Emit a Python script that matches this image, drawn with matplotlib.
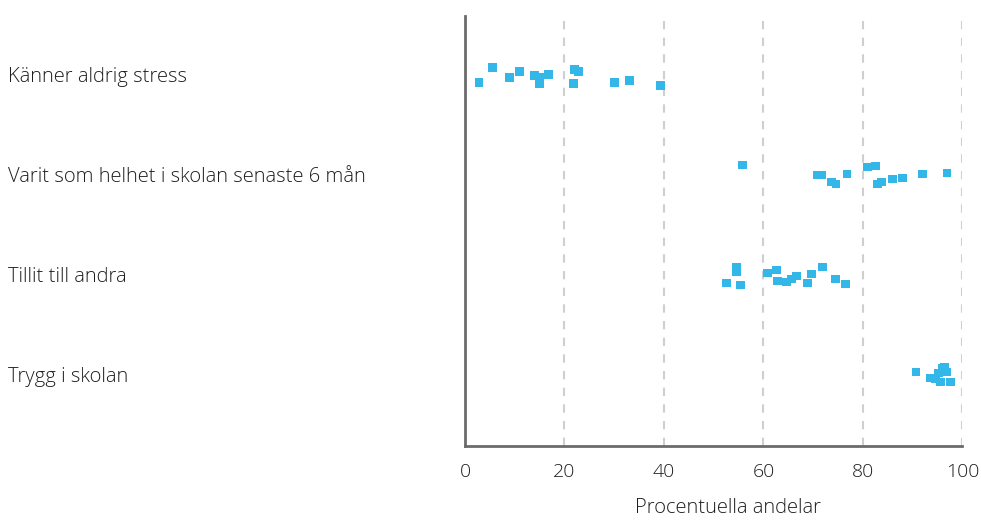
import matplotlib.pyplot as plt
import matplotlib.transforms as mtransforms

CATEGORIES = ['Trygg i skolan',
              'Tillit till andra',
              'Varit som helhet i skolan senaste 6 mån',
              'Känner aldrig stress']
CATEGORY_POS = [1, 2, 3, 4]

# Each point: share in percent and its jittered row position
STRESS_X = [2.8, 5.6, 8.9, 10.9, 14.0, 15.0, 15.0, 16.8, 22.0, 22.8, 21.8,
            30.0, 33.1, 39.3]
STRESS_Y = [3.95, 4.10, 4.00, 4.06, 4.02, 4.00, 3.94, 4.03, 4.08, 4.06, 3.94,
            3.95, 3.97, 3.92]

HELHET_X = [55.8, 70.8, 71.6, 73.7, 74.6, 76.8, 80.9, 82.6, 82.9, 83.8,
            85.9, 87.9, 92.0, 96.9]
HELHET_Y = [3.12, 3.02, 3.02, 2.95, 2.93, 3.03, 3.10, 3.11, 2.93, 2.95,
            2.98, 2.99, 3.03, 3.04]

TILLIT_X = [52.6, 54.6, 54.6, 55.4, 60.8, 62.6, 62.9, 64.7, 65.7, 66.6,
            68.8, 69.6, 71.9, 74.5, 76.5]
TILLIT_Y = [1.94, 2.10, 2.05, 1.92, 2.04, 2.07, 1.96, 1.95, 1.98, 2.01,
            1.94, 2.03, 2.10, 1.98, 1.93]

TRYGG_X = [90.7, 93.5, 94.6, 95.2, 96.0, 96.4, 96.8, 95.6, 97.6]
TRYGG_Y = [1.05, 0.99, 0.98, 1.04, 1.09, 1.10, 1.05, 0.95, 0.95]

X_TICKS = [0, 20, 40, 60, 80, 100]

POINT_COLOR = '#33B6E8'
TEXT_COLOR = '#1E1E1E'
FONT = ['Open Sans', 'DejaVu Sans']

plt.rcParams['font.family'] = FONT
plt.rcParams['font.weight'] = 'light'

fig = plt.figure(figsize=(9.81, 5.21), dpi=100)
ax = fig.add_axes([0.474, 0.144, 0.507, 0.825])

for xs, ys in [(STRESS_X, STRESS_Y), (HELHET_X, HELHET_Y),
               (TILLIT_X, TILLIT_Y), (TRYGG_X, TRYGG_Y)]:
    ax.scatter(xs, ys, marker='s', s=40, color=POINT_COLOR,
               edgecolors='none', zorder=3)

ax.set_xlim(0, 100)
ax.set_ylim(0.31, 4.61)
ax.set_xticks(X_TICKS)
ax.set_yticks([])
ax.tick_params(axis='x', length=0, pad=12, labelsize=14,
               labelcolor=TEXT_COLOR)

# Category labels sit at the far left of the figure
label_trans = mtransforms.blended_transform_factory(fig.transFigure,
                                                    ax.transData)
for pos, name in zip(CATEGORY_POS, CATEGORIES):
    ax.text(8 / 981, pos, name, transform=label_trans, ha='left',
            va='center', fontsize=14.5, color=TEXT_COLOR)

ax.xaxis.grid(True, linestyle=(0, (4, 4)), color='#CFCFCF', linewidth=1.5)
ax.set_axisbelow(True)

for side in ['top', 'right']:
    ax.spines[side].set_visible(False)
for side in ['left', 'bottom']:
    ax.spines[side].set_color('#6B6B6B')
    ax.spines[side].set_linewidth(2)

ax.set_xlabel('Procentuella andelar', fontsize=14.5, color=TEXT_COLOR,
              fontweight='light')
ax.xaxis.set_label_coords(0.529, -0.122)

fig.savefig('out.png', dpi=100)
